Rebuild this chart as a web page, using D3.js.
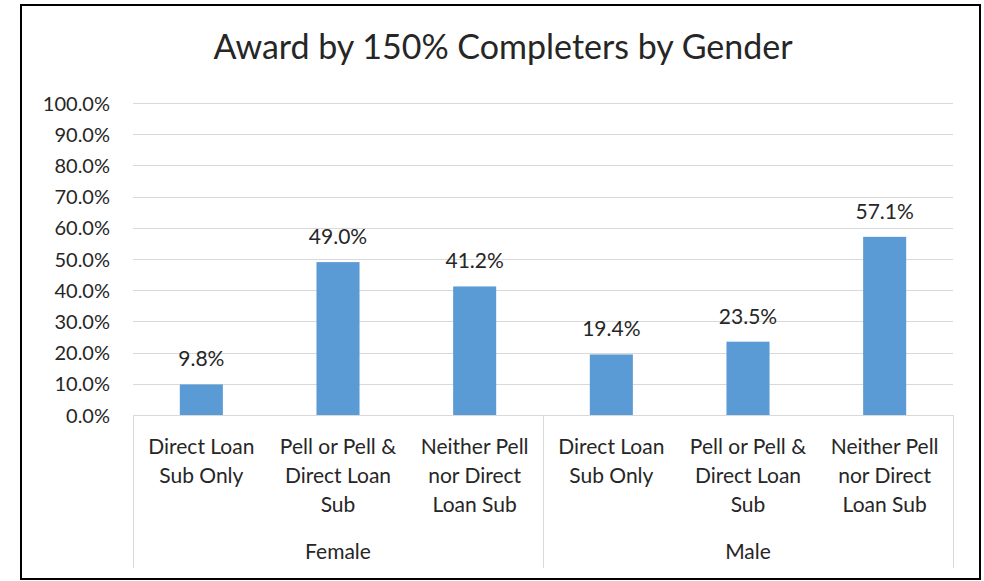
<!DOCTYPE html>
<html><head><meta charset="utf-8">
<script src="https://cdn.jsdelivr.net/npm/d3@7"></script>
<style>body{margin:0;background:#fff}svg{display:block}text{font-family:Lato,"Open Sans",sans-serif;fill:#262626}</style>
</head><body>
<svg id="c" width="984" height="581"></svg>
<script>
const title = "Award by 150% Completers by Gender";
const groups = ["Female", "Male"];
const categories = [
  ["Direct Loan", "Sub Only"],
  ["Pell or Pell &", "Direct Loan", "Sub"],
  ["Neither Pell", "nor Direct", "Loan Sub"]
];
const femaleValues = [9.8, 49.0, 41.2];
const maleValues = [19.4, 23.5, 57.1];
const yTicks = [0, 10, 20, 30, 40, 50, 60, 70, 80, 90, 100];

const data = [];
groups.forEach((g, gi) => {
  const vals = gi === 0 ? femaleValues : maleValues;
  categories.forEach((c, ci) => data.push({key: g + ci, group: g, lines: c, value: vals[ci]}));
});

const svg = d3.select("#c");
svg.append("rect").attr("x", 21).attr("y", 5).attr("width", 959).attr("height", 574)
  .attr("fill", "#fff").attr("stroke", "#000").attr("stroke-width", 2);

const L = 133, R = 953, T = 103, B = 415;
const x = d3.scaleBand().domain(data.map(d => d.key)).range([L, R]).paddingInner(0.685).paddingOuter(0.3425);
const y = d3.scaleLinear().domain([0, 100]).range([B, T]);

svg.append("text").attr("x", 503).attr("y", 59).attr("text-anchor", "middle")
  .style("font-size", "34px").text(title);

// gridlines
svg.append("g").selectAll("line").data(yTicks).join("line")
  .attr("x1", L).attr("x2", R).attr("y1", d => Math.round(y(d)) + 0.5).attr("y2", d => Math.round(y(d)) + 0.5)
  .attr("stroke", "#d9d9d9").attr("stroke-width", 1);

// y axis labels
const yAxis = d3.axisLeft(y).tickValues(yTicks).tickSize(0).tickPadding(0).tickFormat(d => d.toFixed(1) + "%");
const gy = svg.append("g").attr("transform", `translate(110,0)`).call(yAxis);
gy.select(".domain").remove();
gy.selectAll("text").attr("dy", "0.35em").style("font-size", "20px").style("font-family", "Lato").attr("fill", "#262626");

// bars
svg.append("g").selectAll("rect").data(data).join("rect")
  .attr("x", d => x(d.key)).attr("width", x.bandwidth())
  .attr("y", d => y(d.value)).attr("height", d => y(0) - y(d.value))
  .attr("fill", "#5B9BD5");

// data labels
svg.append("g").selectAll("text").data(data).join("text")
  .attr("x", d => x(d.key) + x.bandwidth() / 2).attr("y", d => y(d.value) - 18)
  .attr("text-anchor", "middle").style("font-size", "21px").text(d => d.value.toFixed(1) + "%");

// category axis lines
const step = x.step();
const seps = [L, L + step * 3, R];
svg.append("g").selectAll("line").data(seps).join("line")
  .attr("x1", d => Math.round(d) + 0.5).attr("x2", d => Math.round(d) + 0.5).attr("y1", B).attr("y2", 568)
  .attr("stroke", "#d9d9d9");
svg.append("line").attr("x1", L).attr("x2", R).attr("y1", B + 0.5).attr("y2", B + 0.5).attr("stroke", "#d9d9d9");

// category labels
const cl = svg.append("g").selectAll("text").data(data).join("text")
  .attr("text-anchor", "middle").style("font-size", "21px")
  .attr("x", d => x(d.key) + x.bandwidth() / 2).attr("y", 454);
cl.selectAll("tspan").data(d => d.lines.map(t => ({t, x: x(d.key) + x.bandwidth() / 2}))).join("tspan")
  .attr("x", d => d.x).attr("dy", (d, i) => i === 0 ? 0 : 29).text(d => d.t);

// group labels
svg.append("g").selectAll("text").data(groups).join("text")
  .attr("x", (d, i) => L + step * 3 * i + step * 1.5).attr("y", 559)
  .attr("text-anchor", "middle").style("font-size", "21px").text(d => d);
</script>
</body></html>
